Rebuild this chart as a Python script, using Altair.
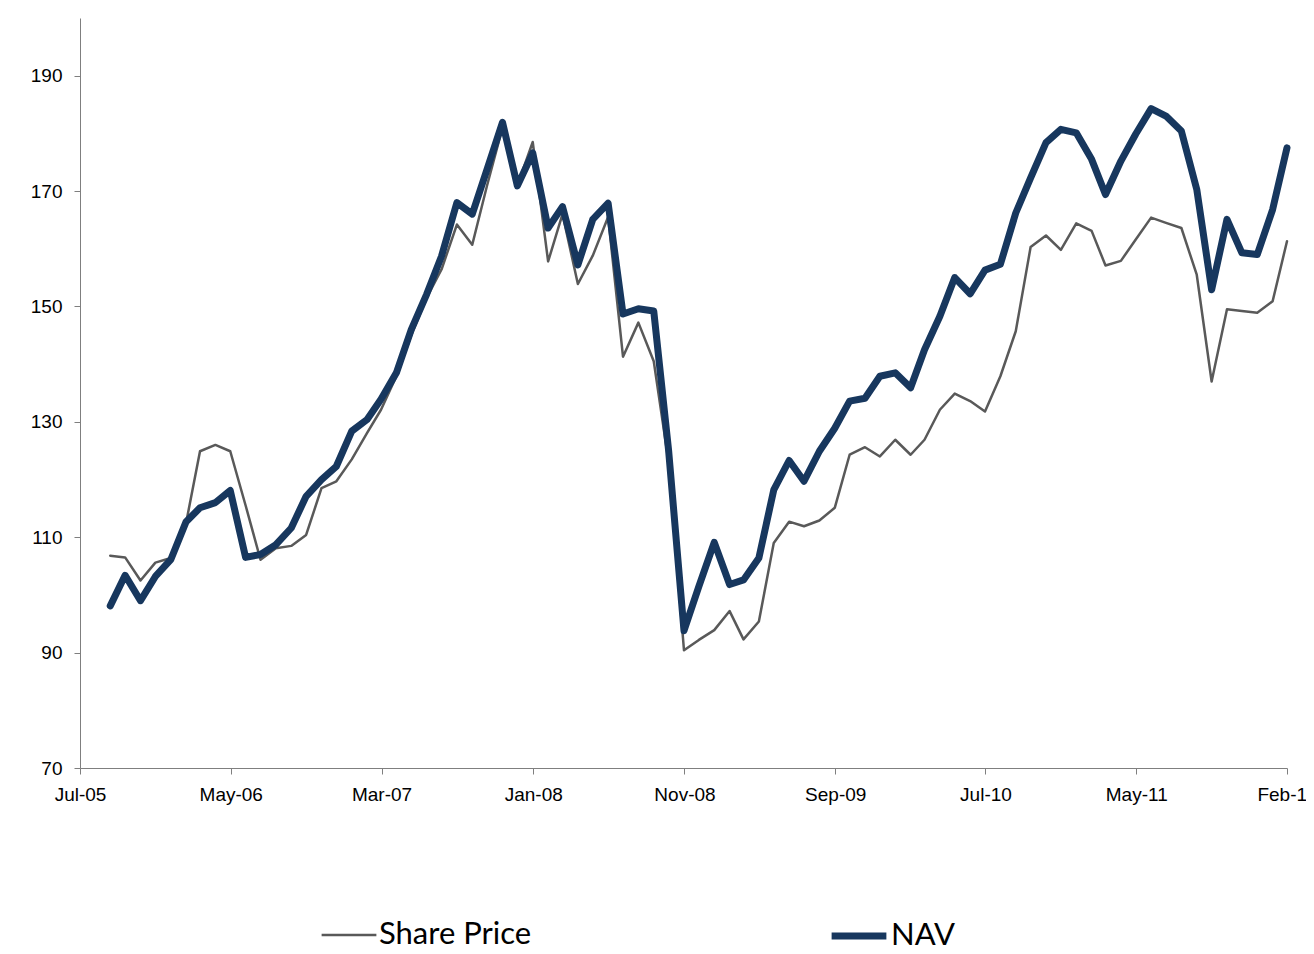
import altair as alt
import pandas as pd

# Month-end observation dates: Aug-2005 .. Feb-2012 (79 months)
dates = [d.strftime("%Y-%m-%d") for d in pd.date_range("2005-08-31", periods=79, freq="ME")]

nav = [
    98.1, 103.4, 99.0, 103.2, 106.1, 112.7, 115.1, 116.0, 118.1, 106.5,
    107.0, 108.7, 111.6, 117.1, 120.0, 122.3, 128.4, 130.4, 133.9, 138.5,
    146.0, 152.1, 158.7, 168.0, 166.0, 173.8, 181.9, 170.9, 176.6, 163.6,
    167.3, 157.2, 165.1, 167.9, 148.7, 149.6, 149.2, 125.0, 93.8, 101.5,
    109.1, 101.8, 102.6, 106.4, 118.2, 123.3, 119.7, 124.9, 128.9, 133.6,
    134.1, 137.9, 138.5, 135.9, 142.5, 148.3, 155.0, 152.2, 156.3, 157.3,
    166.2, 172.3, 178.4, 180.7, 180.1, 175.5, 169.4, 175.2, 179.9, 184.3,
    183.0, 180.4, 170.3, 152.9, 165.1, 159.3, 159.0, 166.8, 177.5,
]

share_price = [
    106.8, 106.5, 102.5, 105.6, 106.4, 112.5, 124.9, 126.0, 124.9, 115.5,
    106.1, 108.1, 108.5, 110.4, 118.5, 119.7, 123.5, 128.1, 132.1, 137.9,
    145.0, 151.5, 156.4, 164.2, 160.7, 171.0, 181.0, 171.0, 178.5, 157.8,
    166.0, 153.9, 158.8, 165.5, 141.3, 147.2, 140.5, 123.0, 90.4, 92.2,
    93.9, 97.2, 92.3, 95.4, 109.0, 112.7, 111.9, 112.9, 115.1, 124.3,
    125.6, 124.0, 126.9, 124.3, 126.9, 132.1, 134.9, 133.6, 131.8, 137.9,
    145.7, 160.3, 162.3, 159.8, 164.4, 163.1, 157.1, 157.9, 161.6, 165.4,
    164.5, 163.6, 155.5, 137.0, 149.5, 149.2, 148.9, 150.9, 161.3,
]

series_names = ["Share Price", "NAV"]
series_colors = ["#595959", "#17375E"]
series_widths = [2.5, 7]

y_ticks = [70, 90, 110, 130, 150, 170, 190]
x_ticks = [
    alt.DateTime(year=2005, month=7, date=1, utc=True),
    alt.DateTime(year=2006, month=5, date=1, utc=True),
    alt.DateTime(year=2007, month=3, date=1, utc=True),
    alt.DateTime(year=2008, month=1, date=1, utc=True),
    alt.DateTime(year=2008, month=11, date=1, utc=True),
    alt.DateTime(year=2009, month=9, date=1, utc=True),
    alt.DateTime(year=2010, month=7, date=1, utc=True),
    alt.DateTime(year=2011, month=5, date=1, utc=True),
    alt.DateTime(year=2012, month=2, date=29, utc=True),
]

df_sp = pd.DataFrame({"date": dates, "value": share_price, "series": "Share Price"})
df_nav = pd.DataFrame({"date": dates, "value": nav, "series": "NAV"})

legend = alt.Legend(
    title=None,
    orient="none",
    legendX=240,
    legendY=887,
    direction="horizontal",
    symbolType="stroke",
    symbolSize=3000,
    symbolStrokeWidth=alt.ExprRef(expr="datum.value === 'NAV' ? 7 : 2.5"),
    labelFont="Lato",
    labelFontSize=31,
    labelColor="black",
    labelOffset=1,
    columnPadding=285,
    labelLimit=400,
)

x_enc = alt.X(
    "date:T",
    scale=alt.Scale(
        type="utc",
        domain=[
            alt.DateTime(year=2005, month=7, date=1, utc=True),
            alt.DateTime(year=2012, month=2, date=29, utc=True),
        ],
    ),
    axis=alt.Axis(
        title=None,
        values=x_ticks,
        labelExpr="utcFormat(datum.value, '%b-%y')",
        labelFlush=False,
        labelOverlap=False,
        grid=False,
        tickSize=6,
        labelPadding=11,
        labelFont="Liberation Sans",
        labelFontSize=19,
        labelColor="black",
        domainColor="#7f7f7f",
        tickColor="#7f7f7f",
    ),
)
y_enc = alt.Y(
    "value:Q",
    scale=alt.Scale(domain=[70, 200], nice=False, zero=False),
    axis=alt.Axis(
        title=None,
        values=y_ticks,
        grid=False,
        tickSize=6,
        labelPadding=12,
        labelFont="Liberation Sans",
        labelFontSize=19,
        labelColor="black",
        domainColor="#7f7f7f",
        tickColor="#7f7f7f",
    ),
)
color_enc = alt.Color(
    "series:N",
    scale=alt.Scale(domain=series_names, range=series_colors),
    legend=legend,
)
width_enc = alt.StrokeWidth(
    "series:N",
    scale=alt.Scale(domain=series_names, range=series_widths),
    legend=None,
)

base_mark = dict(strokeJoin="round", strokeCap="round")
sp_line = alt.Chart(df_sp).mark_line(**base_mark).encode(
    x=x_enc, y=y_enc, color=color_enc, strokeWidth=width_enc
)
nav_line = alt.Chart(df_nav).mark_line(**base_mark).encode(
    x=x_enc, y=y_enc, color=color_enc, strokeWidth=width_enc
)

chart = (
    alt.layer(sp_line, nav_line)
    .properties(
        width=1207,
        height=750,
        padding={"left": 72, "top": 10, "right": 19, "bottom": 178},
        autosize=alt.AutoSizeParams(type="none"),
    )
    .configure_view(stroke=None)
)

chart.save("out.html", embed_options={"renderer": "svg", "actions": False})
